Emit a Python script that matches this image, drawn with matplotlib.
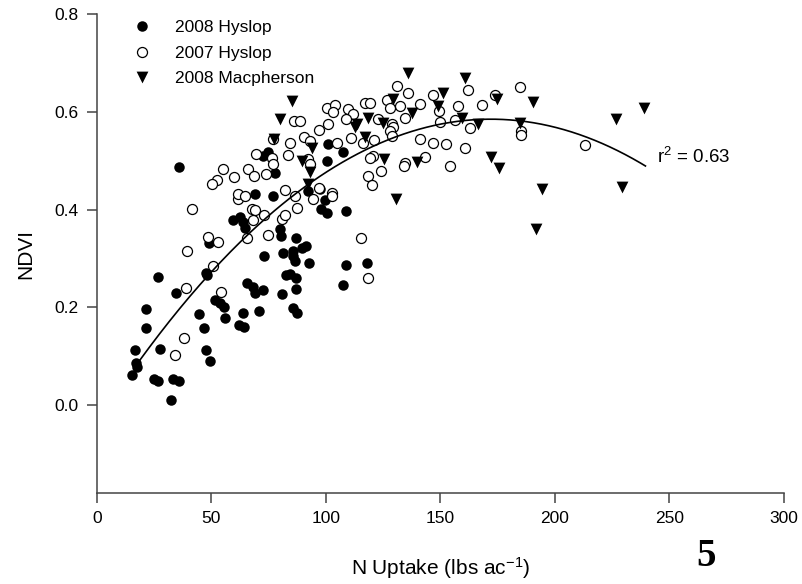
import numpy as np
import matplotlib
matplotlib.use('Agg')
import matplotlib.pyplot as plt
from matplotlib.ticker import MultipleLocator

plt.rcParams['font.family'] = ['Liberation Sans', 'DejaVu Sans']
plt.rcParams['mathtext.fontset'] = 'custom'
plt.rcParams['mathtext.rm'] = 'Liberation Sans'
plt.rcParams['mathtext.default'] = 'regular'

# ---- data ----
# 2008 Hyslop (filled circles)
hys08_x = [15.6, 16.9, 17.1, 17.4, 21.3, 21.7, 24.9, 26.8, 26.8, 27.8,
           32.6, 33.3, 35.7, 34.4, 35.7, 44.7, 46.9, 47.5, 48.2, 47.9,
           48.9, 49.3, 51.5, 53.7, 55.5, 56.2, 59.5, 62.7, 63.9, 64.9,
           62.1, 64.2, 63.9, 65.4, 68.3, 69.0, 72.6, 70.7, 73.1, 69.0,
           72.6, 74.8, 77.0, 78.0, 79.9, 80.3, 80.9, 81.1, 82.5, 84.3,
           86.8, 85.7, 86.5, 86.8, 86.8, 85.7, 87.2, 85.7, 89.4, 91.5,
           92.7, 92.3, 97.5, 99.6, 98.1, 100.5, 100.3, 101.0, 107.5, 109.0,
           108.7, 107.6, 118.0]
hys08_y = [0.061, 0.114, 0.087, 0.079, 0.197, 0.158, 0.054, 0.049, 0.263, 0.115,
           0.010, 0.054, 0.049, 0.230, 0.487, 0.186, 0.158, 0.271, 0.266, 0.114,
           0.332, 0.091, 0.216, 0.210, 0.201, 0.178, 0.379, 0.384, 0.375, 0.363,
           0.165, 0.160, 0.189, 0.251, 0.242, 0.230, 0.235, 0.192, 0.306, 0.433,
           0.510, 0.518, 0.428, 0.474, 0.360, 0.346, 0.227, 0.311, 0.266, 0.268,
           0.261, 0.306, 0.295, 0.341, 0.238, 0.199, 0.189, 0.315, 0.322, 0.325,
           0.290, 0.438, 0.442, 0.420, 0.401, 0.394, 0.500, 0.534, 0.517, 0.397,
           0.286, 0.245, 0.291]

# 2007 Hyslop (open circles)
hys07_x = [34.3, 38.1, 38.9, 39.4, 41.4, 48.6, 53.0, 50.9, 54.2, 65.4,
           74.8, 67.6, 69.0, 68.3, 73.1, 61.7, 81.0, 82.0, 87.2, 86.0,
           77.0, 84.3, 69.4, 76.3, 77.0, 83.3, 73.7, 66.1, 68.6, 55.2,
           52.5, 50.2, 59.8, 61.7, 64.9, 82.1, 86.5, 131.1, 135.7, 146.9,
           162.1, 126.5, 127.9, 132.3, 117.0, 119.2, 141.0, 157.8, 149.5, 100.3,
           103.9, 103.2, 109.7, 111.9, 88.6, 101.0, 97.1, 109.0, 122.8, 128.7,
           134.5, 129.4, 127.9, 149.8, 156.3, 162.9, 129.1, 90.4, 93.3, 110.8,
           116.3, 121.1, 104.9, 141.0, 146.9, 152.3, 160.7, 120.7, 119.2, 124.3,
           134.5, 134.0, 143.2, 154.1, 92.3, 93.0, 118.5, 120.0, 96.9, 94.5,
           102.5, 102.5, 115.3, 118.5, 173.8, 184.7, 168.3, 185.0, 185.0, 213.1]
hys07_y = [0.102, 0.138, 0.240, 0.315, 0.401, 0.345, 0.334, 0.285, 0.232, 0.343,
           0.348, 0.402, 0.399, 0.379, 0.390, 0.421, 0.380, 0.389, 0.404, 0.581,
           0.545, 0.536, 0.513, 0.505, 0.493, 0.511, 0.472, 0.483, 0.469, 0.483,
           0.461, 0.452, 0.466, 0.431, 0.428, 0.440, 0.427, 0.653, 0.639, 0.635,
           0.645, 0.624, 0.607, 0.612, 0.619, 0.618, 0.616, 0.611, 0.602, 0.607,
           0.613, 0.599, 0.605, 0.595, 0.581, 0.575, 0.562, 0.585, 0.585, 0.575,
           0.588, 0.568, 0.561, 0.579, 0.583, 0.566, 0.551, 0.549, 0.540, 0.546,
           0.537, 0.542, 0.537, 0.544, 0.537, 0.534, 0.527, 0.510, 0.506, 0.478,
           0.495, 0.489, 0.508, 0.489, 0.504, 0.493, 0.469, 0.450, 0.444, 0.421,
           0.435, 0.428, 0.343, 0.261, 0.635, 0.650, 0.614, 0.561, 0.553, 0.532]

# 2008 Macpherson (filled down triangles)
mac08_x = [85.4, 80.2, 77.4, 135.9, 160.7, 151.2, 129.4, 149.0, 137.4, 159.3,
           118.2, 113.4, 112.7, 125.0, 117.0, 166.5, 94.0, 89.4, 93.0, 92.3,
           125.5, 140.0, 130.6, 174.8, 190.3, 184.7, 226.5, 239.0, 171.9, 175.5,
           194.4, 229.1, 191.7]
mac08_y = [0.622, 0.585, 0.544, 0.680, 0.669, 0.639, 0.626, 0.612, 0.597, 0.588,
           0.588, 0.575, 0.568, 0.578, 0.549, 0.575, 0.527, 0.500, 0.476, 0.452,
           0.504, 0.497, 0.422, 0.626, 0.621, 0.578, 0.585, 0.607, 0.508, 0.486,
           0.442, 0.446, 0.360]

# quadratic regression shown on the figure (r2 = 0.63)
fit_coef = [-2.1e-5, 0.007224, -0.0363]
fit_range = (18.5, 239.5)

# ---- plot ----
fig = plt.figure(figsize=(8.02, 5.84), dpi=100)
ax = fig.add_axes([0.1206, 0.1553, 0.857, 0.8207])

ax.scatter(hys08_x, hys08_y, s=57, c='black', marker='o', linewidths=0,
           label='2008 Hyslop', zorder=3)
ax.scatter(hys07_x, hys07_y, s=52, facecolors='white', edgecolors='black',
           marker='o', linewidths=0.9, label='2007 Hyslop', zorder=4)
ax.scatter(mac08_x, mac08_y, s=72, c='black', marker='v', linewidths=0,
           label='2008 Macpherson', zorder=5)

xf = np.linspace(fit_range[0], fit_range[1], 200)
ax.plot(xf, np.polyval(fit_coef, xf), color='black', linewidth=1.2, zorder=6)
ax.text(244.5, 0.507, 'r$^2$ = 0.63', fontsize=13.5, va='center', ha='left')

ax.set_xlim(0, 300)
ax.set_ylim(-0.18, 0.8)
ax.xaxis.set_major_locator(MultipleLocator(50))
ax.set_yticks([0.0, 0.2, 0.4, 0.6, 0.8])
ax.set_yticklabels(['0.0', '0.2', '0.4', '0.6', '0.8'])

for side in ['top', 'right']:
    ax.spines[side].set_visible(False)
for side in ['left', 'bottom']:
    ax.spines[side].set_color('#444444')
    ax.spines[side].set_linewidth(1.1)
ax.tick_params(direction='out', length=7, width=1.1, color='#444444',
               labelsize=12.5, pad=6)

ax.set_xlabel('N Uptake (lbs ac$^{-1}$)', fontsize=15)
ax.set_ylabel('NDVI', fontsize=15)
ax.xaxis.set_label_coords(0.5, -0.128)
ax.yaxis.set_label_coords(-0.09, 0.5)

ax.legend(loc='upper left', bbox_to_anchor=(0.053, 0.987), frameon=False,
          fontsize=12.5, handlelength=1.0, handletextpad=1.4,
          labelspacing=0.58, borderpad=0, borderaxespad=0, scatteryoffsets=[0.5])

fig.text(706 / 802, 1 - 556 / 584, '5', fontsize=28, fontweight='bold',
         family='Liberation Serif', ha='center', va='center')

fig.savefig('out.png', dpi=100)
